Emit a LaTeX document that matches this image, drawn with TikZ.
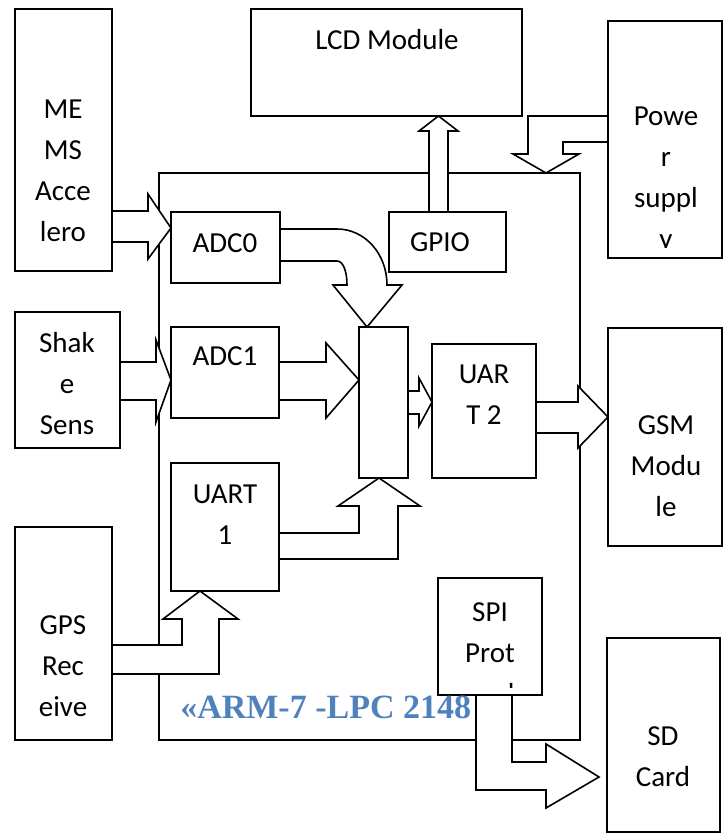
\documentclass[tikz,border=0pt]{standalone}
\usepackage{fontspec}
\setmainfont{Carlito}
\newfontfamily\armfont{Liberation Serif}
\usetikzlibrary{fit}
\definecolor{armblue}{HTML}{4F81BD}
\begin{document}
\begin{tikzpicture}[x=0.75pt,y=-0.75pt,
  box/.style={draw=black,line width=1.2pt,inner sep=0pt,fill=white},
  blk/.style={draw=black,line width=1.2pt,fill=white,line join=miter},
  txt/.style={align=center,inner sep=0pt,font=\fontsize{21.75}{30.75}\selectfont}]
\useasboundingbox (0,0) rectangle (724,834);
% main ARM box
\node[box,fill=none,fit={(159,173) (580,740)}] (arm) {};
% inner blocks
\node[box,fit={(171,212) (280,283)}] (adc0) {};
\node[box,fit={(171,327) (279,418)}] (adc1) {};
\node[box,fit={(171,463) (279,591)}] (uart1) {};
\node[box,fit={(359,327) (408,478)}] (mux) {};
\node[box,fit={(432,344) (536,478)}] (uart2) {};
\node[box,fit={(389,212) (506,272)}] (gpio) {};
\node[box,fit={(438,578) (542,695)}] (spi) {};
% outer blocks
\node[box,fit={(15,9) (112,271)}] (mems) {};
\node[box,fit={(15,312) (120,448)}] (shake) {};
\node[box,fit={(15,527) (112,740)}] (gps) {};
\node[box,fit={(251,9) (522,116)}] (lcd) {};
\node[box,fit={(608,21) (722,258)}] (power) {};
\node[box,fit={(608,328) (722,546)}] (gsm) {};
\node[box,fit={(607,638) (720,832)}] (sd) {};
% block arrows
\path[blk] (112,211) -- (148,211) -- (148,194) -- (171,228) -- (148,259) -- (148,242) -- (112,242) -- cycle;
\path[blk] (120,362) -- (156,362) -- (156,340) -- (171,380) -- (156,422) -- (156,400) -- (120,400) -- cycle;
\path[blk] (279,362) -- (326,362) -- (326,343) -- (359,380) -- (326,418) -- (326,400) -- (279,400) -- cycle;
\path[blk] (408,391) -- (419,391) -- (419,378) -- (432,402) -- (419,426) -- (419,414) -- (408,414) -- cycle;
\path[blk] (536,402) -- (578,402) -- (578,386) -- (608,417) -- (578,448) -- (578,433) -- (536,433) -- cycle;
\path[blk] (429,212) -- (429,131) -- (419,131) -- (438.5,116) -- (458,131) -- (448,131) -- (448,212) -- cycle;
\path[blk] (608,116) -- (528,116) -- (528,154) -- (513,154) -- (546,173) -- (579,154) -- (563,154) -- (563,142) -- (608,142) -- cycle;
\path[blk] (280,229) -- (337,229) .. controls (365,229) and (387,254) .. (387,285) -- (402,285) -- (367,327) -- (333,285) -- (347,285) .. controls (347,271) and (343,261) .. (337,261) -- (280,261) -- cycle;
\path[blk] (279,533) -- (359,533) -- (359,506) -- (338,506) -- (379,478) -- (420,506) -- (398,506) -- (398,559) -- (279,559) -- cycle;
\path[blk] (112,645) -- (182,645) -- (182,619) -- (163,619) -- (200,591) -- (238,619) -- (219,619) -- (219,674) -- (112,674) -- cycle;
\path[blk] (476,695) -- (476,790) -- (546,790) -- (546,808) -- (599,777) -- (546,744) -- (546,762) -- (512,762) -- (512,695) -- cycle;
% labels
\node[txt] (mems-t) at (63,171) {ME\\MS\\Acce\\lero};
\node[txt] (shake-t) at (67,384) {Shak\\e\\Sens};
\node[txt] (gps-t) at (63,666.5) {GPS\\Rec\\eive};
\node[txt] (lcd-t) at (387,40) {LCD Module};
\begin{scope}
\clip (608,21) rectangle (722,247);
\node[txt] (power-t) at (666,180) {Powe\\r\\suppl\\y};
\end{scope}
\node[txt] (gsm-t) at (666,466.5) {GSM\\Modu\\le};
\node[txt] (sd-t) at (663,757) {SD\\Card};
\node[txt] (adc0-t) at (225,243) {ADC0};
\node[txt] (adc1-t) at (225,356) {ADC1};
\node[txt] (uart1-t) at (225,514.5) {UART\\1};
\node[txt] (uart2-t) at (484,395) {UAR\\T 2};
\node[txt] (gpio-t) at (440,242) {GPIO};
\begin{scope}
\clip (438,578) rectangle (542,687);
\node[txt] (spi-t) at (490,653) {SPI\\Prot\\ocol};
\end{scope}
\node[anchor=base west,inner sep=0pt,text=armblue,font=\armfont\bfseries\fontsize{25.5}{30}\selectfont] (arm-t) at (180,718) {«ARM-7 -LPC 2148};
\end{tikzpicture}
\end{document}
